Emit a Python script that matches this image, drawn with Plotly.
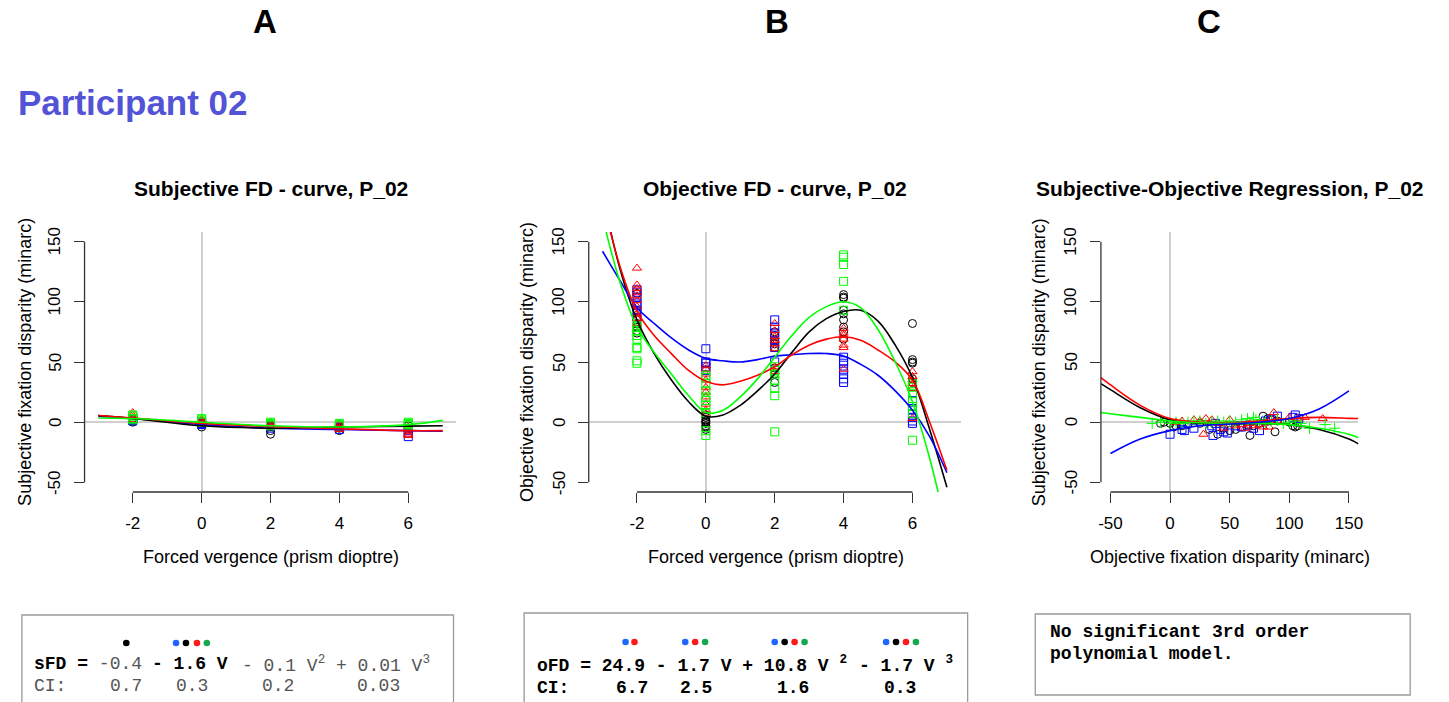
import plotly.graph_objects as go

W, H = 1449, 702

# ---------------- data ----------------
levels = [-2, 0, 2, 4, 6]

# Panel A: subjective FD per vergence level
sfd_black = [[1, 2, 3, 0], [-4, -2, 0, -1], [-10, -7, -4, -3], [-7, -5, -4], [-5, -3]]
sfd_red = [[8, 6, 4, 2], [2, 1, 0, -1], [0, -2, -4], [-1, -3, -5, -6], [-8, -10, -11, -6, -4]]
sfd_blue = [[3, 2, 1], [-1, 0, -2], [-5, -3], [-6, -4], [-12, -7, -9]]
sfd_green = [[5, 3, 2, 6], [2, 1, 0, 3], [0, -1, -2, -3], [-1, -2, -3], [0, -1, -2, -3]]

# Panel B: objective FD per vergence level
ofd_black = [[107, 93, 87, 85, 82, 79, 76, 74], [6, 4, 2, 1, 0, -1, -3, -4, -6],
             [75, 72, 67, 65, 62, 45, 40, 33], [106, 104, 103, 93, 90, 85, 79, 75, 69],
             [82, 52, 50, 49, 36, 33]]
ofd_red = [[128, 114, 111, 108, 105, 101, 96, 90, 86, 82], [47, 44, 40, 35, 29, 25, 21, 15, 10, 7],
           [82, 76, 71, 68, 65, 61, 46, 42], [78, 74, 72, 69, 64, 62, 44], [42, 38, 35, 32, 28, 3]]
ofd_blue = [[110, 108, 104, 99, 97, 93, 87], [61, 50, 49, 46, 43], [85, 79, 74, 68, 62, 50],
            [54, 51, 49, 44, 40, 36, 33], [18, 13, 10, 7, 4, 1, -1]]
ofd_green = [[80, 76, 72, 69, 62, 61, 51, 49], [39, 37, 32, 26, 21, 18, 14, 8, -7, -11],
             [46, 43, 40, 35, 28, 22, -8], [139, 137, 131, 117, 93], [32, 29, 24, 17, 13, 7, -15]]

# Panel C: (objective, subjective) pairs
reg_black_x = [-8, -5, 0, 3, 5, 10, 15, 25, 33, 40, 45, 50, 55, 60, 65, 67, 70, 75, 78, 82, 85, 88, 90, 100, 103, 105, 107]
reg_black_y = [-1, 0, -1, -4, -3, -3, -2, -1, -6, -10, -5, -7, -6, -4, -2, -11, -3, -1, 5, 3, 2, -8, 1, 0, -3, -4, -3]
reg_red_x = [5, 10, 20, 25, 28, 30, 35, 40, 45, 50, 55, 60, 63, 67, 70, 75, 78, 80, 83, 85, 87, 90, 100, 107, 113, 128]
reg_red_y = [0, 1, 2, 1, -10, 3, 2, -1, -5, 2, -3, -2, -5, -1, -3, -2, -4, 0, -4, 3, 8, 1, 4, 3, 4, 3]
reg_blue_x = [0, 10, 12, 20, 35, 36, 38, 42, 45, 48, 55, 60, 65, 70, 75, 80, 85, 90, 103, 105, 108]
reg_blue_y = [-10, -6, -7, -5, -3, -11, -1, -6, -8, -9, -3, -4, -3, -5, -7, 1, 2, 5, 4, 6, 3]
reg_green_x = [-15, -8, 0, 5, 10, 15, 20, 25, 30, 35, 40, 45, 50, 55, 60, 65, 70, 72, 75, 80, 85, 90, 95, 100, 105, 110, 117, 130, 138]
reg_green_y = [-1, 0, -1, 0, -1, 0, 1, 1, -1, 0, 1, 0, 1, 0, 2, 3, 4, 2, 1, 0, 1, 2, -1, 0, 1, -1, -5, -2, -5]

# fitted curves
curveA_x = [-3, -2, 0, 2, 4, 6, 7]
curveA_black = [5.5, 3, -3, -5, -4, -3.3, -3]
curveA_red = [5.5, 3.5, -1, -3.6, -5.5, -7, -7]
curveA_blue = [5, 3, -2, -5, -6, -7, -7.5]
curveA_green = [3.5, 3, 0, -3, -4, -2, 1.5]

curveB_x = [-3, -2.5, -2, -1.5, -1, -0.5, 0, 0.5, 1, 1.5, 2, 2.5, 3, 3.5, 4, 4.5, 5, 5.5, 6, 6.5, 7]
curveB_black = [190, 128, 85, 57, 35, 17, 5, 6, 14, 26, 40, 58, 75, 86, 92, 93, 84, 64, 37, -6, -54]
curveB_red = [185, 130, 92, 72, 57, 43, 34, 31, 34, 39, 46, 56, 64, 69, 71, 68, 60, 50, 35, 0, -40]
curveB_blue = [142, 118, 95, 82, 70, 60, 53, 51, 50, 52, 55, 56, 57, 57, 55, 48, 39, 26, 10, -12, -42]
curveB_green = [170, 117, 79, 58, 40, 22, 8, 10, 21, 36, 54, 72, 87, 96, 100, 95, 77, 50, 17, -30, -90]

curveC_x = [-58, -50, -25, 0, 25, 50, 75, 100, 125, 150, 158]
curveC_red = [37, 31, 14, 3, 0, -0.5, 1, 3, 4, 3.2, 3]
curveC_black = [32, 27, 12, 2, -1, -1.5, -1, -2, -6, -14, -18]
curveC_green = [8, 7, 4, 1, -0.5, -1, -1, -2, -5, -10, -13]
curveC_blue_x = [-50, -25, 0, 25, 50, 75, 100, 125, 150]
curveC_blue = [-26, -14, -7, -3, -1.5, 0, 3, 11, 26]

vergence_ticks = [-2, 0, 2, 4, 6]
vergence_labels = ["-2", "0", "2", "4", "6"]
minarc_ticks = [-50, 0, 50, 100, 150]
minarc_labels = ["-50", "0", "50", "100", "150"]

# ---------------- helpers ----------------
def px(x):
    return x / W

def py(y):
    return 1 - y / H

def flat(groups):
    xs, ys = [], []
    for lv, vals in zip(levels, groups):
        for v in vals:
            xs.append(lv)
            ys.append(v)
    return xs, ys

COL = {"black": "#000000", "red": "#FF0000", "blue": "#0000FF", "green": "#00FF00"}
SANS = "Liberation Sans, Arial, sans-serif"
MONO = "Liberation Mono, Courier New, monospace"

fig = go.Figure()

def pts(xs, ys, color, symbol, ax):
    fig.add_trace(go.Scatter(x=xs, y=ys, mode="markers", xaxis="x" + ax, yaxis="y" + ax,
                             marker=dict(symbol=symbol, size=8, color=COL[color],
                                         line=dict(color=COL[color], width=1)),
                             showlegend=False, hoverinfo="skip"))

def curve(xs, ys, color, ax):
    fig.add_trace(go.Scatter(x=xs, y=ys, mode="lines", xaxis="x" + ax, yaxis="y" + ax,
                             line=dict(color=COL[color], width=1.6, shape="spline", smoothing=1),
                             showlegend=False, hoverinfo="skip"))

# Panel A
for grp, col, sym in [(sfd_black, "black", "circle-open"), (sfd_blue, "blue", "square-open"),
                      (sfd_red, "red", "triangle-up-open"), (sfd_green, "green", "square-open")]:
    x, y = flat(grp)
    pts(x, y, col, sym, "")
for ys, col in [(curveA_blue, "blue"), (curveA_black, "black"), (curveA_red, "red"), (curveA_green, "green")]:
    curve(curveA_x, ys, col, "")

# Panel B
for grp, col, sym in [(ofd_black, "black", "circle-open"), (ofd_blue, "blue", "square-open"),
                      (ofd_red, "red", "triangle-up-open"), (ofd_green, "green", "square-open")]:
    x, y = flat(grp)
    pts(x, y, col, sym, "2")
for ys, col in [(curveB_black, "black"), (curveB_blue, "blue"), (curveB_red, "red"), (curveB_green, "green")]:
    curve(curveB_x, ys, col, "2")

# Panel C
pts(reg_black_x, reg_black_y, "black", "circle-open", "3")
pts(reg_blue_x, reg_blue_y, "blue", "square-open", "3")
pts(reg_red_x, reg_red_y, "red", "triangle-up-open", "3")
pts(reg_green_x, reg_green_y, "green", "cross-thin-open", "3")
curve(curveC_x, curveC_black, "black", "3")
curve(curveC_x, curveC_red, "red", "3")
curve(curveC_x, curveC_green, "green", "3")
curve(curveC_blue_x, curveC_blue, "blue", "3")

# ---------------- axes ----------------
panels = {
    "": (82, 456, [-3.4, 7.4], vergence_ticks, vergence_labels),
    "2": (589, 963, [-3.4, 7.4], vergence_ticks, vergence_labels),
    "3": (1104, 1363, [-58, 158], minarc_ticks, minarc_labels),
}
TOP, BOT = 232, 492
YR = [-58, 158]
tickfont = dict(family=SANS, size=17, color="#000")
lay = {}
shapes = []
ann = []
for k, (x0, x1, xr, xt, xl) in panels.items():
    lay["xaxis" + k] = dict(domain=[px(x0), px(x1)], range=xr, tickvals=xt, ticktext=xl, ticks="outside",
                            ticklen=10, tickwidth=1.3, tickcolor="#333", showline=False,
                            showgrid=False, zeroline=True, zerolinecolor="#cfcfcf", zerolinewidth=2,
                            tickfont=tickfont, anchor="y" + k, fixedrange=True,
                            ticklabelstandoff=6)
    lay["yaxis" + k] = dict(domain=[py(BOT), py(TOP)], range=YR, tickvals=minarc_ticks,
                            showticklabels=False,
                            ticks="outside", ticklen=10, tickwidth=1.3, tickcolor="#333",
                            showline=False, showgrid=False, zeroline=True, zerolinecolor="#cfcfcf",
                            zerolinewidth=2, anchor="x" + k, fixedrange=True)
    xa = "x" + k
    ya = "y" + k
    shapes.append(dict(type="line", xref=xa, yref=ya + " domain", x0=xt[0], x1=xt[-1], y0=0, y1=0,
                       line=dict(color="#333", width=1.3)))
    shapes.append(dict(type="line", xref=xa + " domain", yref=ya, x0=0, x1=0,
                       y0=minarc_ticks[0], y1=minarc_ticks[-1], line=dict(color="#333", width=1.3)))
    # rotated y tick labels (R style), placed by data value on the y axis
    for v, lab in zip(minarc_ticks, minarc_labels):
        ann.append(dict(x=px(x0 - 30), xref="paper", y=v, yref=ya, text=lab, showarrow=False,
                        textangle=-90, xanchor="center", yanchor="middle", font=tickfont))

# ---------------- text ----------------
def text(x, y, s, size, bold=False, color="#000", family=SANS, xanchor="center", angle=0):
    ann.append(dict(x=px(x), y=py(y), xref="paper", yref="paper", text=("<b>%s</b>" % s) if bold else s,
                    showarrow=False, xanchor=xanchor, yanchor="middle", textangle=angle,
                    font=dict(family=family, size=size, color=color)))

text(263, 21, "A", 33, True)
text(778, 21, "B", 33, True)
text(1213, 21, "C", 33, True)
text(13, 102, "Participant 02", 35, True, "#5353D6", xanchor="left")

text(269, 188, "Subjective FD - curve, P_02", 21, True)
text(776, 188, "Objective FD - curve, P_02", 21, True)
text(1234, 188, "Subjective-Objective Regression, P_02", 21, True)

text(269, 557, "Forced vergence (prism dioptre)", 18)
text(777, 557, "Forced vergence (prism dioptre)", 18)
text(1234, 557, "Objective fixation disparity (minarc)", 18)
text(22, 362, "Subjective fixation disparity (minarc)", 18, angle=-90)
text(527, 362, "Objective fixation disparity (minarc)", 18, angle=-90)
text(1042, 362, "Subjective fixation disparity (minarc)", 18, angle=-90)

# boxes
for x0, y0, x1, y1 in [(19, 615, 453, 712), (524, 613, 970, 712), (1038, 614, 1415, 695)]:
    shapes.append(dict(type="rect", xref="paper", yref="paper", x0=px(x0), x1=px(x1), y0=py(y1), y1=py(y0),
                       line=dict(color="#9a9a9a", width=1.3), fillcolor="rgba(0,0,0,0)"))

GRAY = "#555555"
# box A
text(29, 664, "<b>sFD =</b> <span style='color:%s'>-0.4</span>" % GRAY, 18, family=MONO, xanchor="left")
text(148, 664, "- 1.6 V", 18, True, family=MONO, xanchor="left")
text(238, 664, "- 0.1 V<sup>2</sup> + 0.01 V<sup>3</sup>", 18, color=GRAY, family=MONO, xanchor="left")
for xx, s in [(29, "CI:"), (106, "0.7"), (172, "0.3"), (258, "0.2"), (354, "0.03")]:
    text(xx, 686, s, 18, color=GRAY, family=MONO, xanchor="left")
# box B
text(535, 664, "oFD = 24.9 - 1.7 V + 10.8 V <sup>2</sup>", 18, True, family=MONO, xanchor="left")
text(859, 664, "- 1.7 V <sup>3</sup>", 18, True, family=MONO, xanchor="left")
for xx, s in [(535, "CI:"), (614, "6.7"), (679, "2.5"), (776, "1.6"), (884, "0.3")]:
    text(xx, 688, s, 18, True, family=MONO, xanchor="left")
# box C
text(1051, 632, "No significant 3rd order", 18, True, family=MONO, xanchor="left")
text(1051, 654, "polynomial model.", 18, True, family=MONO, xanchor="left")

# significance dots
DOT = {"k": "#000000", "b": "#1F66FF", "r": "#FF1A1A", "g": "#15A84E"}
dots = [(124, 643, "k"), (174, 643, "b"), (184, 643, "k"), (195, 643, "r"), (205, 643, "g"),
        (626, 642, "b"), (635, 642, "r"),
        (686, 642, "b"), (696, 642, "r"), (706, 642, "g"),
        (776, 642, "b"), (786, 642, "k"), (796, 642, "r"), (806, 642, "g"),
        (888, 642, "b"), (898, 642, "k"), (908, 642, "r"), (918, 642, "g")]
for x, y, c in dots:
    shapes.append(dict(type="circle", xref="paper", yref="paper", xsizemode="pixel", ysizemode="pixel",
                       xanchor=px(x), yanchor=py(y), x0=-3.3, x1=3.3, y0=-3.3, y1=3.3,
                       fillcolor=DOT[c], line=dict(width=0)))

fig.update_layout(width=W, height=H, margin=dict(l=0, r=0, t=0, b=0), paper_bgcolor="white",
                  plot_bgcolor="white", showlegend=False, shapes=shapes, annotations=ann, **lay)

fig.write_html("out.html", config={"displayModeBar": False})
